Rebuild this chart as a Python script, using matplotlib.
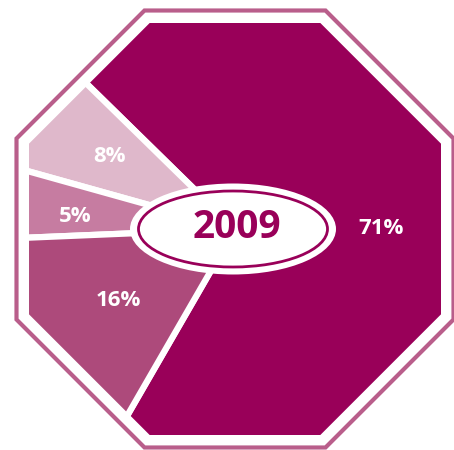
import numpy as np
import matplotlib.pyplot as plt
from matplotlib.patches import Polygon, Ellipse, PathPatch
from matplotlib.path import Path

# share of each segment, 2009
labels = ['71%', '8%', '5%', '16%']
values = [71, 8, 5, 16]
colors = ['#990059', '#DFB8CB', '#C67CA1', '#AD4A7B']
year = '2009'

# label anchors (px from chart centre, y up)
label_xy = [(146, 1), (-125, 73), (-160, 13), (-117, -71)]

MAGENTA = '#990059'
BORDER = '#B95E8B'


def octagon(apothem):
    r = apothem / np.cos(np.pi / 8)
    ang = np.deg2rad(22.5 + 45 * np.arange(8))
    return np.column_stack([r * np.cos(ang), r * np.sin(ang)])


fig = plt.figure(figsize=(4.54, 4.5), dpi=100)
ax = fig.add_axes([0, 0, 1, 1])

wedges, _ = ax.pie(values, colors=colors, startangle=-120, counterclock=True,
                   radius=260,
                   wedgeprops=dict(edgecolor='white', linewidth=4.5))

# white mask outside the inner octagon, so the pie takes the octagon shape
box = np.array([[-400, -400], [400, -400], [400, 400], [-400, 400], [-400, -400]])
octo = octagon(206)
octo = np.vstack([octo[::-1], octo[-1:]])
verts = np.vstack([box, octo])
codes = ([Path.MOVETO] + [Path.LINETO] * 3 + [Path.CLOSEPOLY]
         + [Path.MOVETO] + [Path.LINETO] * 7 + [Path.CLOSEPOLY])
ax.add_patch(PathPatch(Path(verts, codes), facecolor='white', edgecolor='none'))

outer = Polygon(octagon(218.5), closed=True, facecolor='none',
                edgecolor=BORDER, linewidth=3, joinstyle='miter')
ax.add_patch(outer)

for txt, (x, y) in zip(labels, label_xy):
    ax.text(x, y, txt, ha='center', va='center', color='white',
            fontsize=16, fontweight='bold', family='Open Sans')

ax.add_patch(Ellipse((-2, 0), 206, 91, facecolor='white', edgecolor='none'))
ax.add_patch(Ellipse((-2, 0), 189, 76, facecolor='white', edgecolor=MAGENTA,
                     linewidth=2))
ax.text(1.5, 1.5, year, ha='center', va='center', color=MAGENTA,
        fontsize=28, fontweight='bold', family='Open Sans')

ax.set_xlim(-235, 219)
ax.set_ylim(-221, 229)
ax.set_aspect('equal')
ax.axis('off')

fig.savefig('out.png', dpi=100)
